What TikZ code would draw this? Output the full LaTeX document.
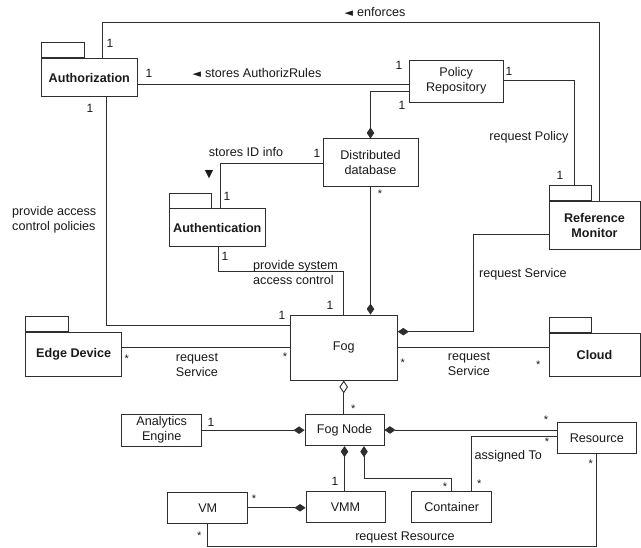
\documentclass[tikz,border=0pt]{standalone}
\usepackage{fontspec}
\setmainfont{Liberation Sans}
\newfontfamily\symfont{DejaVu Sans}
\newcommand\trisym[1]{{\symfont\fontsize{11}{12}\selectfont #1}}
\usetikzlibrary{arrows.meta}
\definecolor{ln}{HTML}{2E2E2E}
\definecolor{tx}{HTML}{1A1A1A}
\begin{document}
\begin{tikzpicture}[x=1pt,y=-1pt,
  box/.style={draw=ln, line width=0.9pt, fill=white, inner sep=0pt, align=center, text=tx, font=\fontsize{12.6}{15}\selectfont},
  pkg/.style={box, font=\fontsize{12.6}{15}\selectfont\bfseries},
  tabbox/.style={draw=ln, line width=0.9pt, inner sep=0pt, anchor=south west, minimum width=42.6pt, minimum height=15pt},
  conn/.style={draw=ln, line width=0.9pt},
  lbl/.style={inner sep=0pt, text=tx, font=\fontsize{12.6}{15}\selectfont, align=center},
  mult/.style={inner sep=0pt, text=tx, font=\fontsize{12}{14}\selectfont},
  star/.style={inner sep=0pt, text=tx, font=\fontsize{11}{12}\selectfont, anchor=base, yshift=-6pt},
  compend/.style={conn, -{Diamond[length=11pt,width=7.5pt]}},
  compstart/.style={conn, {Diamond[length=11pt,width=7.5pt]}-},
  aggstart/.style={conn, {Diamond[open,length=13pt,width=8.5pt]}-}
]
\useasboundingbox[fill=white] (0,0) rectangle (641,548);

% ---------- nodes ----------
\node[pkg, minimum width=95.3pt, minimum height=38pt] (auth) at (89.3,77.7) {Authorization};
\node[tabbox] (authtab) at (auth.north west) {};
\node[box, minimum width=93.7pt, minimum height=42pt] (pr) at (456.2,81) {Policy\\Repository};
\node[box, minimum width=95pt, minimum height=47.7pt] (db) at (370.5,162.8) {Distributed\\database};
\node[pkg, minimum width=96.7pt, minimum height=37.7pt] (authn) at (217.3,227.8) {Authentication};
\node[tabbox] (authntab) at (authn.north west) {};
\node[pkg, minimum width=91pt, minimum height=48.3pt] (rm) at (594.5,225.8) {Reference\\Monitor};
\node[tabbox] (rmtab) at (rm.north west) {};
\node[box, minimum width=107.3pt, minimum height=65pt] (fog) at (343.7,347.5) {Fog};
\node[pkg, minimum width=96pt, minimum height=44pt] (edge) at (73.7,354.7) {Edge Device};
\node[tabbox] (edgetab) at (edge.north west) {};
\node[pkg, minimum width=91pt, minimum height=43.4pt] (cloud) at (594.5,355) {Cloud};
\node[tabbox] (cloudtab) at (cloud.north west) {};
\node[box, minimum width=79pt, minimum height=31.4pt] (fognode) at (344.5,430) {Fog Node};
\node[box, minimum width=80pt, minimum height=31.7pt] (ae) at (161.7,430.2) {Analytics\\Engine};
\node[box, minimum width=79.7pt, minimum height=31pt] (res) at (596.8,437.8) {Resource};
\node[box, minimum width=80pt, minimum height=31pt] (cont) at (451.7,507.2) {Container};
\node[box, minimum width=79pt, minimum height=31pt] (vmm) at (345.5,507.2) {VMM};
\node[box, minimum width=80pt, minimum height=31pt] (vm) at (207.7,507.8) {VM};

% ---------- bend points ----------
\coordinate (e1) at (102.7,22.7);
\coordinate (e2) at (599,22.7);
\coordinate (s1) at (137,84);
\coordinate (p1) at (574,80.7);
\coordinate (q1) at (370.5,91.7);
\coordinate (r1) at (220.7,163.3);
\coordinate (t1) at (218,271.7);
\coordinate (t2) at (343,271.7);
\coordinate (u1) at (106.7,325);
\coordinate (v1) at (473.3,234.3);
\coordinate (v2) at (473.3,331.7);
\coordinate (a1) at (471.7,436.7);
\coordinate (b1) at (364,478.3);
\coordinate (b2) at (451.7,478.3);
\coordinate (c1) at (208.3,546.7);
\coordinate (c2) at (596.7,546.7);

% ---------- connectors ----------
\draw[conn] (auth.north -| e1) -- (e1) -- (e2) -- (rm.north -| e2);
\draw[conn] (auth.east |- s1) -- (pr.west |- s1);
\draw[conn] (pr.east |- p1) -- (p1) -- (rmtab.north -| p1);
\draw[compend] (pr.west |- q1) -- (q1) -- (db.north);
\draw[conn] (db.west |- r1) -- (r1) -- (authn.north -| r1);
\draw[conn] (authn.south -| t1) -- (t1) -- (t2) -- (fog.north -| t2);
\draw[conn] (auth.south -| u1) -- (u1) -- (fog.west |- u1);
\draw[compend] (db.south) -- (fog.north -| db.south);
\draw[compend] (rm.west |- v1) -- (v1) -- (v2) -- (fog.east |- v2);
\draw[conn] (edge.east |- fog.west) -- (fog.west);
\draw[conn] (fog.east) -- (cloud.west |- fog.east);
\draw[aggstart] (fog.south) -- (fognode.north -| fog.south);
\draw[compend] (ae.east) -- (fognode.west |- ae.east);
\draw[compstart] (fognode.east) -- (res.west |- fognode.east);
\draw[conn] (res.west |- a1) -- (a1) -- (cont.north -| a1);
\draw[compstart] (fognode.south -| b1) -- (b1) -- (b2) -- (cont.north -| b2);
\draw[compstart] (fognode.south) -- (vmm.north -| fognode.south);
\draw[compend] (vm.east) -- (vmm.west |- vm.east);
\draw[conn] (vm.south) -- (vm.south |- c1) -- (c2) -- (res.south -| c2);

% ---------- association labels ----------
\node[lbl] (lenf) at (375,12) {\trisym{◄}\hspace{4pt}enforces};
\node[lbl] (lsar) at (257,73) {\trisym{◄}\hspace{4pt}stores AuthorizRules};
\node[lbl] (lrp) at (529,137) {request Policy};
\node[lbl] (lsid) at (246,152) {stores ID info};
\node[lbl] (ltri) at (209,175) {\trisym{▼}};
\node[lbl, align=left, anchor=west] (lpac) at (12,220) {provide access\\control policies};
\node[lbl, align=left, anchor=west] (lpsa) at (253,272) {provide system\\access control};
\node[lbl] (lrs1) at (523,274.5) {request Service};
\node[lbl] (lrs2) at (197,365) {request\\Service};
\node[lbl] (lrs3) at (469,364) {request\\Service};
\node[lbl] (lat) at (508.3,456.7) {assigned To};
\node[lbl] (lrr) at (405,537.3) {request Resource};

% ---------- multiplicities ----------
\node[mult] (m1) at (110,43) {1};
\node[mult] (m2) at (149,73) {1};
\node[mult] (m3) at (90,108) {1};
\node[mult] (m4) at (399,65.7) {1};
\node[mult] (m5) at (509,71.7) {1};
\node[mult] (m6) at (402,105) {1};
\node[mult] (m7) at (560,175) {1};
\node[mult] (m8) at (317,153) {1};
\node[mult] (m9) at (227,196.7) {1};
\node[mult] (m10) at (225,256.7) {1};
\node[mult] (m11) at (330,305) {1};
\node[mult] (m12) at (282,315) {1};
\node[mult] (m13) at (211,422.7) {1};
\node[mult] (m14) at (335,481.7) {1};
\node[star] (s1n) at (380,191.7) {*};
\node[star] (s2n) at (126.7,356.7) {*};
\node[star] (s3n) at (285,354.3) {*};
\node[star] (s4n) at (402.7,360.7) {*};
\node[star] (s5n) at (538.3,362.3) {*};
\node[star] (s6n) at (353.3,406.7) {*};
\node[star] (s7n) at (546,418) {*};
\node[star] (s8n) at (547,440) {*};
\node[star] (s9n) at (479.3,481.7) {*};
\node[star] (s10n) at (445,485) {*};
\node[star] (s11n) at (254,496.7) {*};
\node[star] (s12n) at (199.3,533.3) {*};
\node[star] (s13n) at (590.7,461.7) {*};
\end{tikzpicture}
\end{document}
